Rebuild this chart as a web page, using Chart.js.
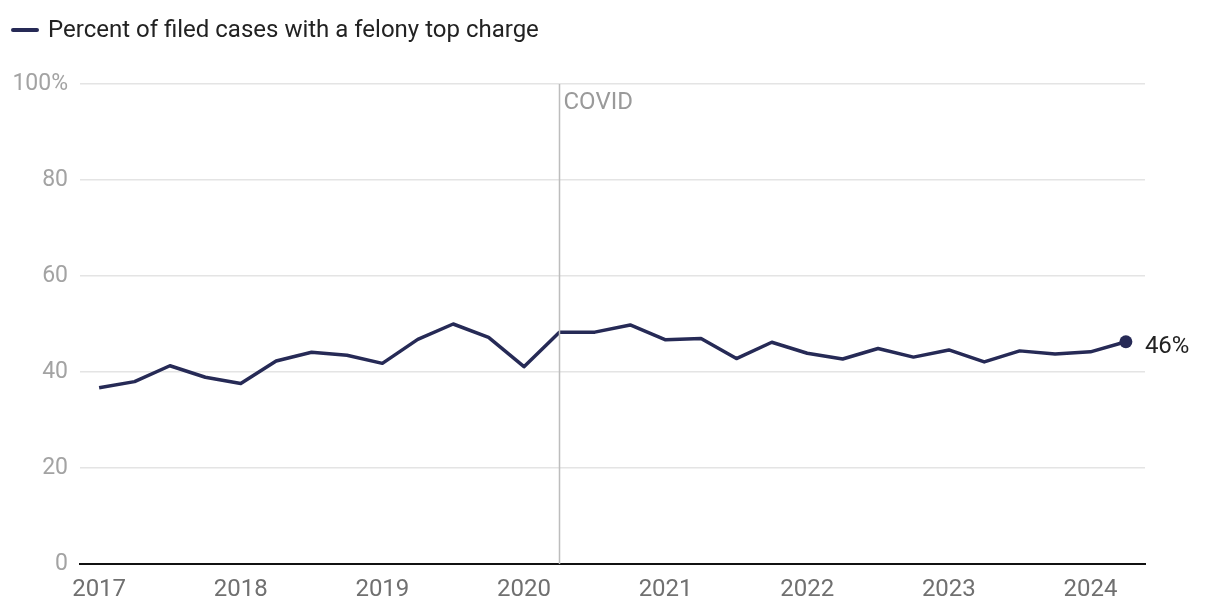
<!DOCTYPE html>
<html>
<head>
<meta charset="utf-8">
<script src="https://cdn.jsdelivr.net/npm/chart.js@4"></script>
<style>
  html, body { margin: 0; padding: 0; background: #fff; }
  #wrap { width: 1220px; height: 614px; position: relative; }
</style>
</head>
<body>
<div id="wrap"><canvas id="c" width="1220" height="614"></canvas></div>
<script>
// ---- Data ----
const quarters = [
  '2017 Q1','2017 Q2','2017 Q3','2017 Q4',
  '2018 Q1','2018 Q2','2018 Q3','2018 Q4',
  '2019 Q1','2019 Q2','2019 Q3','2019 Q4',
  '2020 Q1','2020 Q2','2020 Q3','2020 Q4',
  '2021 Q1','2021 Q2','2021 Q3','2021 Q4',
  '2022 Q1','2022 Q2','2022 Q3','2022 Q4',
  '2023 Q1','2023 Q2','2023 Q3','2023 Q4',
  '2024 Q1','2024 Q2'
];
const felonyPercent = [
  36.7, 38.0, 41.3, 38.9,
  37.6, 42.3, 44.1, 43.5,
  41.8, 46.8, 50.0, 47.2,
  41.1, 48.3, 48.3, 49.8,
  46.7, 47.0, 42.8, 46.2,
  43.9, 42.7, 44.9, 43.1,
  44.6, 42.1, 44.4, 43.75,
  44.2, 46.3
];
const yearTicks = [2017, 2018, 2019, 2020, 2021, 2022, 2023, 2024];
const yTicks = [0, 20, 40, 60, 80, 100];
const seriesName = 'Percent of filed cases with a felony top charge';
const covidLabel = 'COVID';
const covidQuarter = '2020 Q2';
const endLabel = '46%';

// ---- Helpers ----
function quarterToYear(q) {
  const [y, qq] = q.split(' Q');
  return Number(y) + (Number(qq) - 1) / 4;
}
const points = quarters.map((q, i) => ({ x: quarterToYear(q), y: felonyPercent[i] }));
const FONT = 'Roboto, "Liberation Sans", sans-serif';
const LINE = '#262a56';

const overlay = {
  id: 'overlay',
  afterDatasetsDraw(chart) {
    const { ctx, chartArea, scales } = chart;
    // COVID line
    const cx = Math.round(scales.x.getPixelForValue(quarterToYear(covidQuarter))) + 0.5;
    ctx.save();
    ctx.strokeStyle = '#bdbdbd';
    ctx.lineWidth = 1.5;
    ctx.beginPath();
    ctx.moveTo(cx, chartArea.top);
    ctx.lineTo(cx, chartArea.bottom);
    ctx.stroke();
    ctx.fillStyle = '#9a9a9a';
    ctx.font = '24px ' + FONT;
    ctx.textBaseline = 'middle';
    ctx.textAlign = 'left';
    ctx.fillText(covidLabel, cx + 4, chartArea.top + 19);
    // end label
    const meta = chart.getDatasetMeta(0);
    const last = meta.data[meta.data.length - 1];
    ctx.fillStyle = '#222';
    ctx.font = '24px ' + FONT;
    ctx.fillText(endLabel, last.x + 19, last.y + 5);
    ctx.restore();
  },
  afterDraw(chart) {
    const { ctx } = chart;
    ctx.save();
    ctx.strokeStyle = LINE;
    ctx.lineWidth = 4;
    ctx.lineCap = 'round';
    ctx.beginPath();
    ctx.moveTo(13, 30);
    ctx.lineTo(37, 30);
    ctx.stroke();
    ctx.fillStyle = '#222';
    ctx.font = '24px ' + FONT;
    ctx.textBaseline = 'middle';
    ctx.fillText(seriesName, 48, 31);
    ctx.restore();
  }
};

new Chart(document.getElementById('c'), {
  type: 'line',
  data: {
    datasets: [{
      label: seriesName,
      data: points,
      borderColor: LINE,
      backgroundColor: LINE,
      borderWidth: 3.5,
      borderJoinStyle: 'round',
      tension: 0,
      pointRadius: points.map((p, i) => i === points.length - 1 ? 6.5 : 0),
      pointHoverRadius: 0,
      pointBackgroundColor: LINE,
      pointBorderWidth: 0,
      clip: false
    }]
  },
  options: {
    responsive: false,
    animation: false,
    devicePixelRatio: 1,
    layout: { padding: { top: 84, right: 75, bottom: 0, left: 0 } },
    plugins: { legend: { display: false }, tooltip: { enabled: false } },
    scales: {
      x: {
        type: 'linear',
        min: 2016.865,
        max: 2024.385,
        afterBuildTicks(scale) { scale.ticks = yearTicks.map(v => ({ value: v })); },
        afterFit(scale) { scale.height = 50; },
        grid: { display: false, drawTicks: false },
        border: { display: true, color: '#111', width: 2 },
        ticks: {
          callback: v => String(v),
          color: '#707070',
          font: { family: FONT, size: 24 },
          padding: 12,
          maxRotation: 0
        }
      },
      y: {
        min: 0,
        max: 100,
        afterBuildTicks(scale) { scale.ticks = yTicks.map(v => ({ value: v })); },
        afterFit(scale) { scale.width = 80; },
        grid: { color: '#e4e4e4', lineWidth: 1.5, drawTicks: false },
        border: { display: false },
        ticks: {
          callback: v => v === 100 ? v + '%' : String(v),
          color: '#a3a3a3',
          font: { family: FONT, size: 23 },
          padding: 12
        }
      }
    }
  },
  plugins: [overlay]
});
</script>
</body>
</html>
